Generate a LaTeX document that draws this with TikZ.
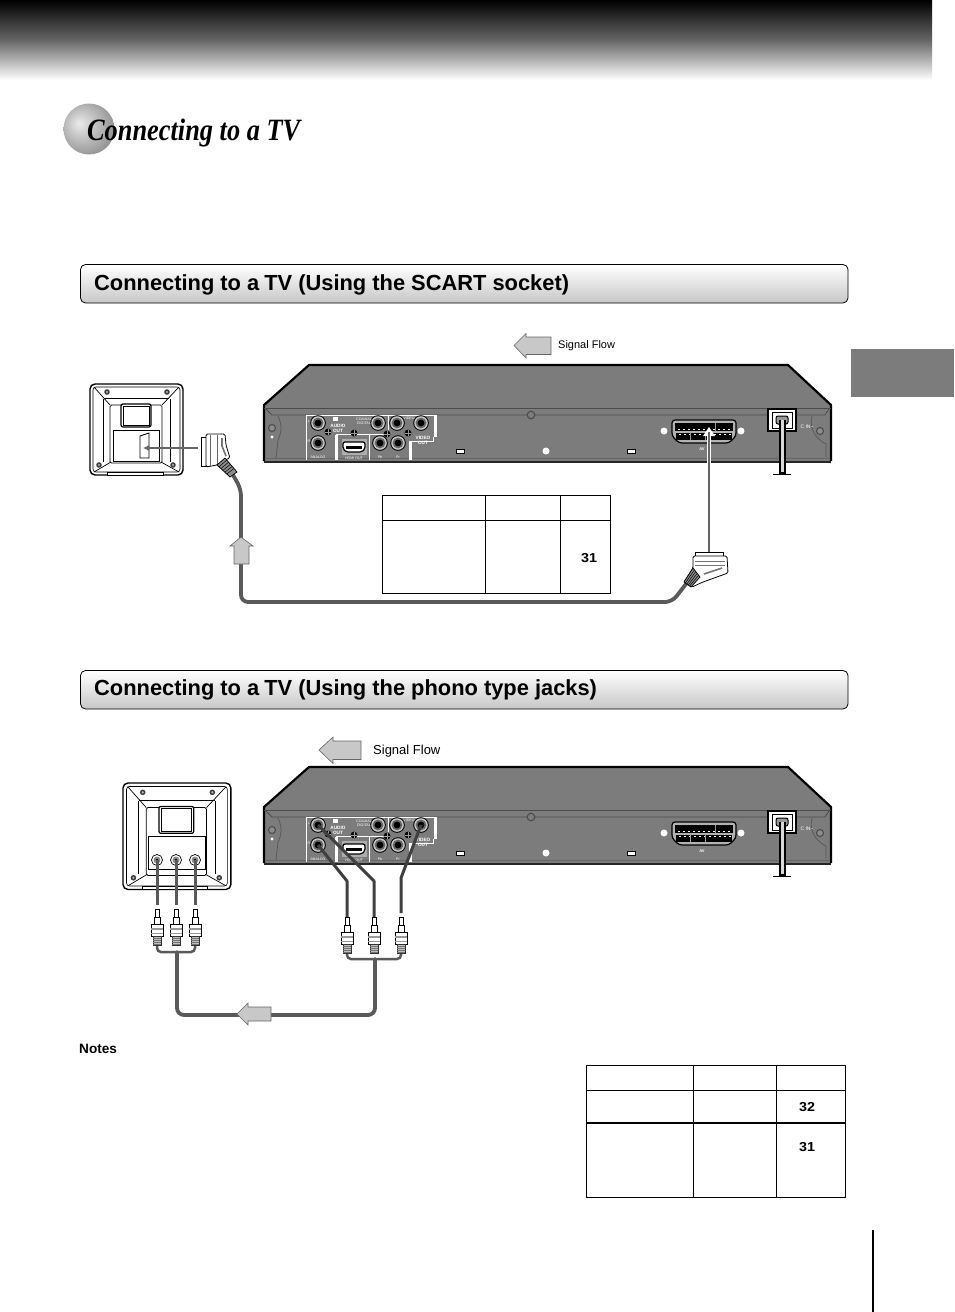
\documentclass[tikz,border=0pt]{standalone}
\usepackage{fontspec}
\setmainfont{Liberation Sans}
\newfontfamily\serifbi{Liberation Serif}
\usetikzlibrary{calc,arrows.meta}
\definecolor{bodygray}{HTML}{7C7C7C}
\definecolor{arrowgray}{HTML}{C8C8C8}
\definecolor{cablegray}{HTML}{5A5A5A}
\pgfdeclareradialshading{sphereshade}{\pgfpoint{-10bp}{6bp}}{
  color(0bp)=(black!8); color(12bp)=(black!22); color(30bp)=(black!42); color(50bp)=(black!55); color(60bp)=(black!58)}
\tikzset{
  px/.style={x=1pt,y=-1pt},
  cable/.style={draw=cablegray,line width=3.8pt,rounded corners=7pt,line cap=round},
  thincable/.style={draw=cablegray!70!black,line width=3pt,line join=round},
  flowarrow/.style={fill=arrowgray,draw=black!60,line width=0.6pt},
  sectionbar/.style={draw=black,line width=0.8pt,rounded corners=5pt,top color=white,bottom color=black!22},
  sectiontext/.style={font=\fontsize{21.85}{26}\selectfont\bfseries,anchor=base west,inner sep=0pt,text=black},
  grid/.style={draw=black,line width=1pt},
  pagenum/.style={font=\fontsize{13}{15}\selectfont\bfseries,inner sep=0pt,xscale=1.1},
  tinylabel/.style={font=\fontsize{3.6}{4}\selectfont,text=white,inner sep=0pt,align=center},
  panellabel/.style={font=\fontsize{4.7}{5}\selectfont\bfseries,text=white,inner sep=0pt,align=center},
  panelline/.style={draw=white,line width=0.7pt},
  panelthick/.style={draw=white,line width=3pt},
  tvline/.style={draw=black,line width=0.7pt},
  flowtext/.style={anchor=base west,inner sep=0pt}
}
% jack
\newcommand{\rcajack}[2]{%
  \fill[black] (#1,#2) circle (7.8pt);
  \fill[black!22] (#1,#2) circle (6.8pt);
  \fill[black!60] (#1,#2) circle (5.4pt);
  \fill[black] (#1,#2) circle (3.4pt);
}
\newcommand{\panelscrew}[2]{%
  \fill[black] (#1,#2) circle (3.4pt);
  \draw[white!60!black,line width=0.5pt] (#1-2.6,#2)--(#1+2.6,#2) (#1,#2-2.6)--(#1,#2+2.6);
}
% player
\newcommand{\dvdplayer}[1]{%
\begin{scope}[shift={(0,#1)}]
  \fill[bodygray] (264,405)--(309,365)--(788,365)--(831,405)--(831,461)--(264,461)--cycle;
  \draw[black,line width=2.2pt,line join=round] (264,461)--(264,405)--(309,365)--(788,365)--(831,405)--(831,461);
  \draw[black!85,line width=1.4pt] (264,462)--(831,462);
  \draw[black!70,line width=0.9pt] (264,408)--(831,408);
  \draw[black!70,line width=0.8pt] (266,409)--(272,415)--(825,415)--(829,409);
  \draw[black!60,line width=0.8pt] (266,458)--(829,458);
  % screws and left/right ends
  \draw[black!70,line width=1.1pt,fill=black!45] (272,428) circle (3.5pt);
  \draw[black!65,line width=0.8pt] (278,416) .. controls (282,424) and (282,432) .. (278,440) -- (276,458);
  \fill[white] (272,437) circle (1.6pt);
  \draw[black!70,line width=1.1pt,fill=black!45] (820,431) circle (3.5pt);
  \draw[black!65,line width=0.8pt] (812,416) .. controls (810,424) and (811,436) .. (826,444) -- (826,457);
  \draw[black!70,line width=1.1pt,fill=bodygray] (531,415) circle (3.8pt);
  % panel lines
  \draw[panelline] (306,460)--(306,415)--(436,415);
  \draw[panelthick] (435,415)--(435,437);
  \draw[panelline] (412,441)--(433,441)--(433,437);
  \draw[panelthick] (336,435)--(336,460);
  \draw[panelline] (336,434.5)--(369,434.5)--(369,460);
  \draw[panelline] (369,434.5)--(385,434.5);
  \draw[panelline] (388,415)--(388,430);
  \draw[panelthick] (410,441)--(410,460);
  \fill[white] (333,417) rectangle (338,421);
  % jacks
  \rcajack{318}{423}\rcajack{318}{443}\rcajack{378}{423}\rcajack{397}{423}\rcajack{421}{423}\rcajack{380}{443}\rcajack{398}{443}
  \panelscrew{328}{432}\panelscrew{354}{433}\panelscrew{387}{434}\panelscrew{408}{433}
  % HDMI
  \fill[black!32] (342,439) rectangle (367,455);
  \draw[black,line width=1.2pt,fill=white,rounded corners=2pt] (343,442)--(365,442)--(365,449)--(362,452)--(346,452)--(343,449)--cycle;
  \fill[black] (346,446) rectangle (362,448.5);
  % labels
  \node[panellabel] (audiolabel) at (338,428) {AUDIO\\OUT};
  \node[panellabel] (videolabel) at (423,440) {VIDEO\\OUT};
  \node[tinylabel] (llabel) at (309,421) {L};
  \node[tinylabel] (rlabel) at (309,441) {R};
  \node[tinylabel] (analoglabel) at (318,457) {ANALOG};
  \node[tinylabel] (coaxlabel) at (364,421) {COAXIAL\\DIGITAL};
  \node[tinylabel] (ylabel) at (409,418) {VIDEO};
  \node[tinylabel] (hdmilabel) at (354,458) {HDMI OUT};
  \node[tinylabel] (pblabel) at (380,457) {Pb};
  \node[tinylabel] (prlabel) at (398,457) {Pr};
  \node[tinylabel,font=\fontsize{4}{4}\selectfont\bfseries] (avlabel) at (702,449.5) {AV};
  \node[tinylabel,font=\fontsize{5}{5}\selectfont] (aclabel) at (807,427) {C IN\textasciitilde};
  % lights
  \draw[black,line width=0.7pt,fill=white] (456.5,449.5) rectangle (464.5,453.5);
  \draw[black,line width=0.7pt,fill=white] (627.5,449.5) rectangle (635.5,453.5);
  \fill[white] (546,451) circle (3.5pt);
  \fill[white] (664,431) circle (3.5pt);
  \fill[white] (741,431) circle (3.5pt);
  % AV socket
  \draw[black,line width=1.2pt,fill=black!30,rounded corners=3pt] (672,420)--(736,420)--(736,436)--(729,443)--(679,443)--(672,436)--cycle;
  \fill[black] (675,423) rectangle (733,430.5);
  \fill[black] (676,433) rectangle (732,439.5);
  \foreach \i in {0,...,10}{
    \fill[white] (678+\i*5,428.5) rectangle (679.5+\i*5,429.5);
    \fill[white] (679+\i*5,434) rectangle (680.5+\i*5,435);
  }
  \draw[black!40,line width=0.5pt] (715,423)--(715,430.5) (690,433)--(690,439.5) (705,433)--(705,439.5);
  % power
  \draw[black,line width=1.6pt,fill=white] (768,409) rectangle (796,431);
  \draw[black,line width=0.8pt,fill=white] (772,412) rectangle (792,428);
  \draw[black,line width=1pt,fill=black!40,rounded corners=2pt] (776,416) rectangle (788,424);
  \draw[black,line width=1.1pt,fill=black!15] (780,420) -- (780,473) -- (785,473) -- (785,420);
  \draw[black,line width=1.6pt] (773,474.5)--(791,474.5);
\end{scope}}
% TV
\newcommand{\tvset}{%
  \draw[black,line width=1.4pt,fill=white,rounded corners=5pt] (0,0) rectangle (93,91);
  \draw[black,line width=0.6pt,rounded corners=3pt] (3,3) rectangle (90,88);
  \draw[tvline] (4,3)--(20,21) (89,3)--(72,21) (4,88)--(21,78) (89,88)--(71,78);
  \draw[tvline] (13,15)--(13,78) (80,15)--(80,78);
  \draw[tvline] (14,14.5)--(79,14.5);
  \draw[tvline,rounded corners=1.5pt] (20,21) rectangle (72,79);
  \draw[tvline,fill=white] (17,88) rectangle (73,91);
  \draw[black,line width=1.2pt,rounded corners=2pt,fill=white] (31,20) rectangle (61,43);
  \draw[tvline] (33,22) rectangle (59,41);
  \foreach \p in {(17,8),(77,8),(9,81),(83,81)}{
    \fill[black!75] \p circle (2.8pt);
    \fill[black!30] \p circle (1.2pt);
  }
}
% phono plug: centre x, top y
\newcommand{\phonoplug}[2]{%
  \begin{scope}[shift={(#1,#2)}]
    \draw[black,line width=0.6pt,fill=white] (-2,0) rectangle (2,8);
    \draw[black,line width=0.7pt,fill=white] (-3,8) rectangle (3,15);
    \draw[black,line width=0.8pt,fill=white] (-6,15) rectangle (6,27);
    \fill[black!40] (-6,19) rectangle (6,20.5);
    \fill[black!40] (-6,23.5) rectangle (6,25);
    \draw[black!80,line width=0.7pt,fill=black!25] (-4,27) rectangle (4,36);
    \foreach \t in {29,31,33,35}{\draw[black!55,line width=0.5pt] (-4,\t)--(4,\t);}
  \end{scope}}
\begin{document}
\begin{tikzpicture}[px]
\useasboundingbox (0,0) rectangle (954,1312);
\fill[white] (0,0) rectangle (954,1312);
% banner
\shade[top color=black,bottom color=white,middle color=black!60] (0,0) rectangle (932,80);
\fill[bodygray] (851,349) rectangle (954,397);
\draw[black,line width=2pt] (873,1230)--(873,1312);
% title
\shade[shading=sphereshade] (89,129) circle (25.5pt);
\node[font=\serifbi\fontsize{31}{36}\selectfont\bfseries\itshape,anchor=base west,inner sep=0pt,xscale=0.85] (title) at (87,140) {Connecting to a TV};
% section bars
\draw[sectionbar] (80.5,264.5) rectangle (848,303);
\node[sectiontext] (sec1) at (94,290) {Connecting to a\kern-1pt\ TV (Using the SCART socket)};
\draw[sectionbar] (80.5,670.5) rectangle (848,709);
\node[sectiontext] (sec2) at (94,695) {Connecting to a\kern-1pt\ TV (Using the phono type jacks)};
% signal flows
\draw[flowarrow] (514,345.5)--(526,333.5)--(526,337)--(551,337)--(551,354.5)--(526,354.5)--(526,358)--cycle;
\node[flowtext,font=\fontsize{11}{13}\selectfont] (flow1) at (558,348) {Signal Flow};
\draw[flowarrow] (319,750)--(333,737)--(333,741)--(361,741)--(361,759.5)--(333,759.5)--(333,763.5)--cycle;
\node[flowtext,font=\fontsize{13}{15}\selectfont] (flow2) at (373,754) {Signal Flow};
% players
\dvdplayer{0}
\dvdplayer{402}
% TV1
\begin{scope}[shift={(90,384)}]
  \tvset
  \draw[black,line width=0.9pt,fill=white] (23,46) rectangle (69,77);
  \draw[black,line width=0.9pt] (50,62)--(50,52)--(59,49)--(59,74)--(50,74)--(50,62);
\end{scope}
% table 1
\draw[grid] (382,495) rectangle (610,593.5);
\draw[grid] (382,520.5)--(610,520.5) (485.5,495)--(485.5,593.5) (560.5,495)--(560.5,593.5);
\node[pagenum] (tblone) at (589,558.5) {31};
% scart plug TV side
\coordinate (scartA) at (233,475);
\coordinate (cornerA) at (241,602);
\coordinate (cornerB) at (672,602);
\coordinate (scartB) at (686,584);
\draw[cable] (scartA) -- (241,489) -- (cornerA) -- (cornerB) -- (scartB);
\draw[black,line width=0.8pt,fill=white] (201,437) rectangle (207,466);
\draw[black,line width=0.8pt,fill=white,rounded corners=1.5pt] (206,434)--(225,434)--(226,445)--(230,458)--(225,460)--(217,465)--(206,467)--cycle;
\draw[black!60,line width=0.8pt] (210,435)--(210,466) (217,435)--(217,464);
\draw[black!55,line width=1.6pt] (222,438)--(222,446)--(226,456);
\draw[black,line width=0.7pt,fill=black!45] (217,465)--(225,458)--(237,472)--(230,477)--cycle;
\foreach \t in {0.15,0.3,...,0.9}{\draw[black,line width=0.5pt] ($(217,465)!\t!(230,477)$)--($(225,458)!\t!(237,472)$);}
\coordinate (tvscart) at (143,448);
\coordinate (plugA) at (198,448);
\draw[black!60,line width=2.2pt,-{Latex[length=6pt,width=6pt]}] (plugA)--(tvscart);
% up arrow
\draw[flowarrow] (241,537)--(253,546)--(249,546)--(249,564)--(234,564)--(234,546)--(230,546)--cycle;
% scart plug player side
\coordinate (plugB) at (709,552);
\coordinate (avsocket) at (709,432);
\draw[white,line width=4.5pt] (plugB)--(avsocket);
\fill[white] (709,427)--(703,436)--(715,436)--cycle;
\draw[black!60,line width=2.2pt] (plugB)--(avsocket);
\draw[black,line width=0.8pt,fill=white] (695,552) rectangle (723,556);
\draw[black,line width=0.8pt,fill=white,rounded corners=1.5pt] (693,556)--(727,556)--(728,573)--(703,582)--(692,587)--(684,582)--(693,568)--cycle;
\draw[black!55,line width=1pt] (695,561)--(725,561) (695,565)--(725,565);
\draw[black!55,line width=1.6pt] (704,574)--(722,568);
\draw[black,line width=0.7pt,fill=black!45] (693,568)--(700,577)--(691,587)--(684,582)--cycle;
\foreach \t in {0.2,0.4,0.6,0.8}{\draw[black,line width=0.5pt] ($(693,568)!\t!(700,577)$)--($(684,582)!\t!(691,587)$);}
% TV2
\begin{scope}[shift={(123,783)},x=1.16pt,y=-1.17pt]
  \tvset
  \draw[black,line width=0.9pt,fill=white] (22,46) rectangle (71,74);
\end{scope}
\foreach \n/\x in {a/157,b/176,c/195}{
  \draw[black,line width=0.7pt,fill=white] (\x,860) circle (5.5pt);
  \fill[black!45] (\x,860) circle (3.5pt);
  \fill[black] (\x,860) circle (1.3pt);
  \coordinate (tvjack\n) at (\x,860);
  \coordinate (plugtop\n) at (\x,905);
  \draw[cablegray,line width=3pt] (tvjack\n)--(plugtop\n);
}
% left plugs harness
\draw[cablegray,line width=2.5pt,rounded corners=4pt] (157,945)--(157,952)--(195,952)--(195,945);
\foreach \x in {157,176,195}{\phonoplug{\x}{909}}
% right plugs harness
\draw[cablegray,line width=2.5pt,rounded corners=4pt] (347,952)--(347,959)--(401,959)--(401,952);
\foreach \x in {347,374,401}{\phonoplug{\x}{917}}
% player to plugs
\coordinate (jackL) at (318,825);
\coordinate (jackR) at (318,845);
\coordinate (jackV) at (421,825);
\coordinate (plugL) at (374,917);
\coordinate (plugR) at (347,917);
\coordinate (plugV) at (401,913);
\draw[thincable] (jackL)--(374,881)--(plugL);
\draw[thincable] (jackR)--(347,881)--(plugR);
\draw[thincable] (jackV)--(401,878)--(plugV);
% trunk
\coordinate (trunkL) at (177,952);
\coordinate (trunkR) at (375,959);
\draw[cable] (trunkL)--(177,1015)--(375,1015)--(trunkR);
\draw[flowarrow] (237,1014)--(248,1003)--(248,1007)--(271,1007)--(271,1021)--(248,1021)--(248,1025)--cycle;
% notes
\node[font=\fontsize{13.6}{15}\selectfont\bfseries,anchor=base west,inner sep=0pt] (notes) at (79,1053) {Notes};
% table 2
\draw[grid] (586.5,1065.5) rectangle (845.5,1197.5);
\draw[grid] (586.5,1090)--(845.5,1090) (693.5,1065.5)--(693.5,1197.5) (776.5,1065.5)--(776.5,1197.5);
\draw[black,line width=1.6pt] (586.5,1123)--(845.5,1123);
\node[pagenum] (tbltwo) at (807,1107) {32};
\node[pagenum] (tblthree) at (807,1147) {31};
\end{tikzpicture}
\end{document}
